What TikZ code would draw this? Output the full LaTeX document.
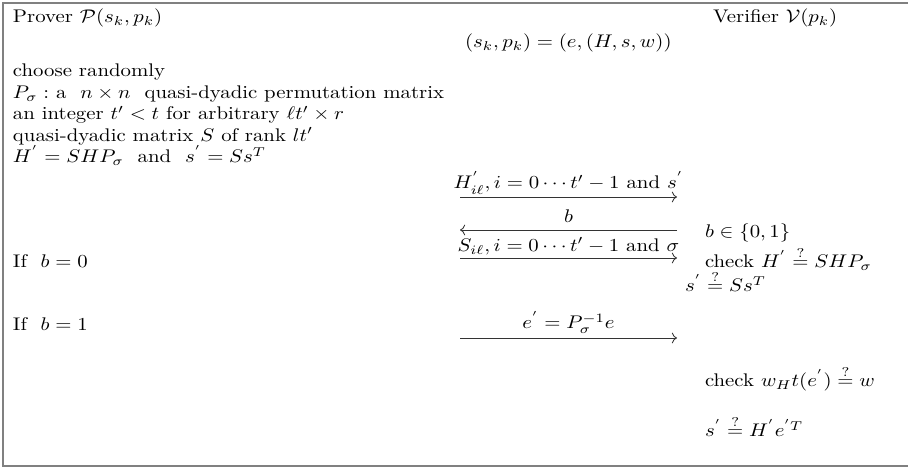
\documentclass[tikz,border=0pt]{standalone}
\usepackage{amsmath}
\usepackage{graphicx}
\usetikzlibrary{arrows.meta}
\newcommand{\sqz}[1]{\scalebox{1}[0.88]{#1}}
\begin{document}
\begin{tikzpicture}[x=0.4808pt,y=-0.4808pt,
  txt/.style={anchor=base west, inner sep=0pt, outer sep=0pt},
  msg/.style={-{Computer Modern Rightarrow}, line width=0.4pt, draw=black!80},
  lbl/.style={above, inner sep=1.2pt, text=black},
  frame/.style={draw=gray, line width=0.9pt}]
\useasboundingbox (0,0) rectangle (908,471);
\draw[frame] (908,3) -- (3,3) -- (3,466) -- (908,466);
\draw[draw=gray, line width=1.2pt] (3,3) -- (3,466);
% header
\node[txt] (prover) at (13,23) {\sqz{Prover $\mathcal{P}(s_k,p_k)$}};
\node[txt] (verifier) at (713,23) {\sqz{Verifier $\mathcal{V}(p_k)$}};
\node[txt] (keys) at (465,48) {\sqz{$(s_k,p_k)=(e,(H,s,w))$}};
% prover setup
\node[txt] (choose) at (13,77) {\sqz{choose randomly}};
\node[txt] (perm) at (13,98.5) {\sqz{$P_\sigma:$ a \ $n\times n$ \ quasi-dyadic permutation matrix}};
\node[txt] (int) at (13,120) {\sqz{an integer $t'<t$ for arbitrary $\ell t'\times r$}};
\node[txt] (qd) at (13,141.5) {\sqz{quasi-dyadic matrix $S$ of rank $lt'$}};
\node[txt] (hp) at (13,163) {\sqz{$H^{'}=SHP_\sigma$ \ and \ $s^{'}=Ss^T$}};
% messages
\coordinate (m1s) at (460,197); \coordinate (m1e) at (677,197);
\draw[msg] (m1s) -- node[lbl] {\sqz{$H^{'}_{i\ell}, i=0\cdots t'-1$ and $s^{'}$}} (m1e);
\coordinate (m2s) at (677,230); \coordinate (m2e) at (460,230);
\draw[msg] (m2s) -- node[lbl, inner sep=3.5pt] {\sqz{$b$}} (m2e);
\node[txt] (bset) at (705,238) {\sqz{$b\in\{0,1\}$}};
\coordinate (m3s) at (460,258); \coordinate (m3e) at (677,258);
\draw[msg] (m3s) -- node[lbl] {\sqz{$S_{i\ell}, i=0\cdots t'-1$ and $\sigma$}} (m3e);
\node[txt] (if0) at (13,268) {\sqz{If \ $b=0$}};
\node[txt] (chk1) at (705,268) {\sqz{check $H^{'}\stackrel{?}{=}SHP_\sigma$}};
\node[txt] (chk2) at (685,292) {\sqz{$s^{'}\stackrel{?}{=}Ss^T$}};
\coordinate (m4s) at (460,338); \coordinate (m4e) at (677,338);
\draw[msg] (m4s) -- node[lbl, inner sep=2pt] {\sqz{$e^{'}=P_\sigma^{-1}e$}} (m4e);
\node[txt] (if1) at (13,331) {\sqz{If \ $b=1$}};
\node[txt] (chk3) at (705,387) {\sqz{check $w_Ht(e^{'})\stackrel{?}{=}w$}};
\node[txt] (chk4) at (705,437) {\sqz{$s^{'}\stackrel{?}{=}H^{'}e^{'T}$}};
\end{tikzpicture}
\end{document}
